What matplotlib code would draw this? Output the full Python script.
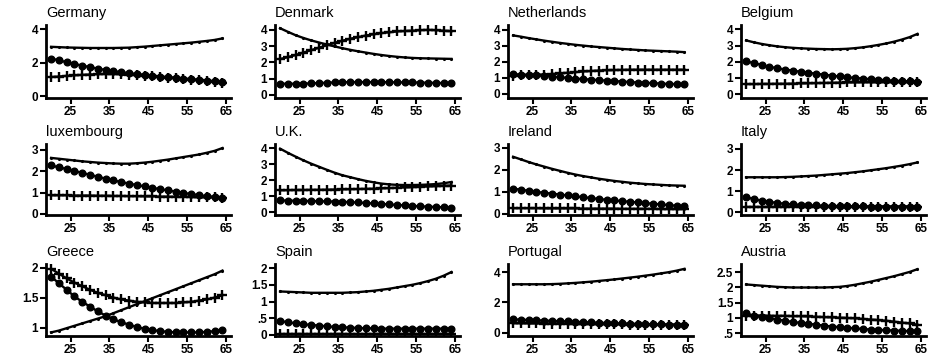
import matplotlib
matplotlib.use("Agg")
import matplotlib.pyplot as plt
from matplotlib.ticker import FuncFormatter

ages = [20, 22, 24, 26, 28, 30, 32, 34, 36, 38, 40, 42, 44, 46, 48, 50, 52, 54, 56, 58, 60, 62, 64]
xticks = [25, 35, 45, 55, 65]

countries = ["Germany", "Denmark", "Netherlands", "Belgium",
             "luxembourg", "U.K.", "Ireland", "Italy",
             "Greece", "Spain", "Portugal", "Austria"]

# plain line / filled-circle line / plus line
germany_line = [2.95, 2.93, 2.91, 2.90, 2.89, 2.88, 2.88, 2.88, 2.88, 2.89, 2.90, 2.93, 2.96, 3.00, 3.04, 3.08, 3.12, 3.16, 3.20, 3.25, 3.30, 3.36, 3.45]
germany_dots = [2.25, 2.15, 2.03, 1.93, 1.83, 1.74, 1.65, 1.57, 1.50, 1.44, 1.38, 1.33, 1.28, 1.23, 1.18, 1.14, 1.10, 1.06, 1.02, 0.98, 0.94, 0.90, 0.84]
germany_plus = [1.15, 1.18, 1.22, 1.25, 1.28, 1.30, 1.32, 1.33, 1.33, 1.32, 1.30, 1.27, 1.24, 1.20, 1.16, 1.12, 1.08, 1.04, 1.00, 0.96, 0.92, 0.88, 0.82]

denmark_line = [4.10, 3.88, 3.67, 3.50, 3.35, 3.22, 3.10, 2.98, 2.87, 2.77, 2.68, 2.60, 2.52, 2.45, 2.39, 2.34, 2.30, 2.27, 2.25, 2.24, 2.23, 2.22, 2.21]
denmark_dots = [0.68, 0.68, 0.68, 0.69, 0.70, 0.72, 0.74, 0.76, 0.77, 0.78, 0.78, 0.78, 0.78, 0.78, 0.77, 0.77, 0.76, 0.76, 0.75, 0.74, 0.73, 0.72, 0.71]
denmark_plus = [2.20, 2.32, 2.45, 2.60, 2.75, 2.90, 3.05, 3.20, 3.33, 3.45, 3.55, 3.65, 3.73, 3.80, 3.85, 3.90, 3.93, 3.95, 3.98, 4.00, 3.98, 3.95, 3.92]

netherlands_line = [3.65, 3.57, 3.48, 3.40, 3.32, 3.25, 3.18, 3.12, 3.06, 3.01, 2.96, 2.92, 2.88, 2.84, 2.80, 2.77, 2.74, 2.71, 2.69, 2.67, 2.65, 2.63, 2.60]
netherlands_dots = [1.22, 1.20, 1.17, 1.14, 1.11, 1.07, 1.03, 0.99, 0.95, 0.91, 0.88, 0.85, 0.82, 0.79, 0.76, 0.73, 0.70, 0.68, 0.66, 0.63, 0.61, 0.60, 0.58]
netherlands_plus = [1.12, 1.14, 1.16, 1.18, 1.20, 1.23, 1.27, 1.31, 1.35, 1.39, 1.42, 1.45, 1.47, 1.48, 1.49, 1.50, 1.50, 1.50, 1.50, 1.50, 1.50, 1.50, 1.50]

belgium_line = [3.32, 3.20, 3.10, 3.02, 2.95, 2.90, 2.86, 2.83, 2.81, 2.79, 2.78, 2.77, 2.78, 2.80, 2.84, 2.89, 2.96, 3.04, 3.13, 3.24, 3.37, 3.52, 3.72]
belgium_dots = [2.02, 1.92, 1.80, 1.69, 1.60, 1.52, 1.45, 1.38, 1.32, 1.26, 1.20, 1.14, 1.09, 1.04, 1.00, 0.96, 0.92, 0.89, 0.86, 0.83, 0.81, 0.79, 0.77]
belgium_plus = [0.62, 0.62, 0.63, 0.63, 0.64, 0.64, 0.65, 0.66, 0.67, 0.68, 0.69, 0.70, 0.71, 0.72, 0.72, 0.73, 0.73, 0.74, 0.74, 0.74, 0.74, 0.74, 0.74]

luxembourg_line = [2.62, 2.58, 2.54, 2.50, 2.46, 2.43, 2.40, 2.38, 2.36, 2.35, 2.35, 2.37, 2.40, 2.44, 2.49, 2.54, 2.60, 2.66, 2.72, 2.78, 2.86, 2.95, 3.08]
luxembourg_dots = [2.27, 2.18, 2.10, 2.01, 1.92, 1.83, 1.74, 1.65, 1.57, 1.49, 1.42, 1.35, 1.29, 1.22, 1.16, 1.10, 1.04, 0.98, 0.93, 0.88, 0.83, 0.79, 0.75]
luxembourg_plus = [0.87, 0.87, 0.87, 0.86, 0.86, 0.86, 0.85, 0.85, 0.84, 0.84, 0.83, 0.83, 0.82, 0.82, 0.81, 0.81, 0.80, 0.80, 0.79, 0.78, 0.78, 0.77, 0.76]

uk_line = [3.98, 3.72, 3.48, 3.25, 3.04, 2.85, 2.66, 2.48, 2.32, 2.20, 2.08, 1.97, 1.88, 1.80, 1.75, 1.72, 1.71, 1.71, 1.72, 1.74, 1.77, 1.82, 1.90]
uk_dots = [0.75, 0.74, 0.73, 0.72, 0.71, 0.70, 0.69, 0.68, 0.66, 0.64, 0.62, 0.59, 0.56, 0.53, 0.50, 0.47, 0.44, 0.41, 0.38, 0.36, 0.34, 0.32, 0.30]
uk_plus = [1.38, 1.39, 1.40, 1.40, 1.41, 1.41, 1.42, 1.43, 1.44, 1.45, 1.46, 1.47, 1.48, 1.50, 1.52, 1.54, 1.56, 1.58, 1.60, 1.62, 1.64, 1.66, 1.68]

ireland_line = [2.60, 2.48, 2.36, 2.25, 2.15, 2.05, 1.96, 1.87, 1.79, 1.72, 1.66, 1.60, 1.55, 1.50, 1.46, 1.42, 1.39, 1.36, 1.34, 1.32, 1.30, 1.29, 1.28]
ireland_dots = [1.15, 1.10, 1.05, 1.00, 0.96, 0.92, 0.88, 0.84, 0.80, 0.76, 0.72, 0.68, 0.64, 0.61, 0.58, 0.55, 0.52, 0.49, 0.46, 0.43, 0.40, 0.37, 0.34]
ireland_plus = [0.26, 0.26, 0.26, 0.26, 0.25, 0.25, 0.25, 0.25, 0.25, 0.24, 0.24, 0.24, 0.24, 0.24, 0.23, 0.23, 0.23, 0.23, 0.23, 0.22, 0.22, 0.22, 0.22]

italy_line = [1.66, 1.66, 1.66, 1.66, 1.66, 1.67, 1.68, 1.70, 1.72, 1.74, 1.77, 1.80, 1.83, 1.86, 1.90, 1.94, 1.99, 2.04, 2.09, 2.15, 2.21, 2.28, 2.36]
italy_dots = [0.72, 0.63, 0.56, 0.50, 0.45, 0.41, 0.38, 0.36, 0.34, 0.33, 0.32, 0.31, 0.30, 0.30, 0.29, 0.29, 0.28, 0.28, 0.28, 0.28, 0.28, 0.28, 0.28]
italy_plus = [0.26, 0.26, 0.26, 0.26, 0.26, 0.26, 0.27, 0.27, 0.27, 0.27, 0.27, 0.27, 0.27, 0.27, 0.27, 0.27, 0.27, 0.27, 0.27, 0.27, 0.27, 0.27, 0.27]

greece_line = [0.92, 0.95, 0.99, 1.03, 1.07, 1.11, 1.15, 1.19, 1.24, 1.29, 1.34, 1.39, 1.44, 1.49, 1.54, 1.59, 1.64, 1.69, 1.74, 1.79, 1.84, 1.89, 1.95]
greece_dots = [1.85, 1.74, 1.63, 1.52, 1.43, 1.35, 1.27, 1.20, 1.14, 1.09, 1.05, 1.01, 0.98, 0.96, 0.94, 0.93, 0.92, 0.92, 0.92, 0.92, 0.93, 0.94, 0.96]
greece_plus = [1.98, 1.90, 1.82, 1.75, 1.69, 1.63, 1.58, 1.54, 1.50, 1.47, 1.45, 1.43, 1.42, 1.41, 1.41, 1.41, 1.41, 1.42, 1.43, 1.45, 1.47, 1.50, 1.54]

spain_line = [1.30, 1.29, 1.28, 1.27, 1.26, 1.26, 1.26, 1.26, 1.26, 1.27, 1.28, 1.30, 1.32, 1.35, 1.38, 1.42, 1.46, 1.50, 1.55, 1.61, 1.68, 1.77, 1.88]
spain_dots = [0.42, 0.38, 0.35, 0.32, 0.30, 0.28, 0.26, 0.24, 0.23, 0.22, 0.21, 0.20, 0.20, 0.19, 0.19, 0.19, 0.19, 0.19, 0.19, 0.19, 0.19, 0.19, 0.19]
spain_plus = [0.04, 0.04, 0.04, 0.04, 0.04, 0.04, 0.04, 0.04, 0.04, 0.04, 0.04, 0.04, 0.04, 0.04, 0.04, 0.04, 0.04, 0.04, 0.04, 0.04, 0.04, 0.04, 0.04]

portugal_line = [3.20, 3.20, 3.20, 3.20, 3.20, 3.21, 3.23, 3.26, 3.29, 3.33, 3.37, 3.42, 3.47, 3.52, 3.58, 3.64, 3.70, 3.77, 3.84, 3.92, 4.00, 4.10, 4.22]
portugal_dots = [0.88, 0.86, 0.84, 0.82, 0.80, 0.78, 0.76, 0.74, 0.72, 0.70, 0.68, 0.66, 0.64, 0.62, 0.61, 0.60, 0.58, 0.57, 0.56, 0.55, 0.54, 0.53, 0.52]
portugal_plus = [0.62, 0.62, 0.61, 0.61, 0.60, 0.60, 0.59, 0.59, 0.58, 0.57, 0.57, 0.56, 0.56, 0.55, 0.55, 0.54, 0.54, 0.53, 0.53, 0.52, 0.52, 0.51, 0.50]

austria_line = [2.10, 2.08, 2.06, 2.04, 2.02, 2.01, 2.00, 2.00, 2.00, 2.00, 2.00, 2.01, 2.02, 2.05, 2.09, 2.14, 2.19, 2.25, 2.31, 2.37, 2.44, 2.51, 2.60]
austria_dots = [1.15, 1.08, 1.03, 0.99, 0.95, 0.91, 0.87, 0.84, 0.81, 0.78, 0.75, 0.72, 0.70, 0.68, 0.66, 0.64, 0.62, 0.61, 0.60, 0.59, 0.58, 0.57, 0.56]
austria_plus = [1.08, 1.08, 1.08, 1.07, 1.07, 1.07, 1.06, 1.06, 1.05, 1.04, 1.03, 1.02, 1.01, 1.00, 0.99, 0.97, 0.95, 0.93, 0.91, 0.88, 0.85, 0.82, 0.78]

series = [
    (germany_line, germany_dots, germany_plus),
    (denmark_line, denmark_dots, denmark_plus),
    (netherlands_line, netherlands_dots, netherlands_plus),
    (belgium_line, belgium_dots, belgium_plus),
    (luxembourg_line, luxembourg_dots, luxembourg_plus),
    (uk_line, uk_dots, uk_plus),
    (ireland_line, ireland_dots, ireland_plus),
    (italy_line, italy_dots, italy_plus),
    (greece_line, greece_dots, greece_plus),
    (spain_line, spain_dots, spain_plus),
    (portugal_line, portugal_dots, portugal_plus),
    (austria_line, austria_dots, austria_plus),
]

yticks = [
    [0, 2, 4], [0, 1, 2, 3, 4], [0, 1, 2, 3, 4], [0, 1, 2, 3, 4],
    [0, 1, 2, 3], [0, 1, 2, 3, 4], [0, 1, 2, 3], [0, 1, 2, 3],
    [1, 1.5, 2], [0, 0.5, 1, 1.5, 2], [0, 2, 4], [0.5, 1, 1.5, 2, 2.5],
]
ylims = [
    (-0.1, 4.25), (-0.2, 4.3), (-0.27, 4.3), (-0.24, 4.27),
    (-0.05, 3.27), (-0.16, 4.27), (-0.05, 3.18), (-0.12, 3.23),
    (0.86, 2.06), (-0.03, 2.12), (-0.22, 4.54), (0.41, 2.77),
]


def fmt(v, pos):
    s = ("%g" % v)
    if s.startswith("0."):
        s = s[1:]
    return s


W, H = 933, 361
fig = plt.figure(figsize=(W / 100, H / 100), dpi=100)
col_left = [46, 275, 508, 741]
row_top = [25, 144, 264]
row_bottom = [98, 215, 336]
ax_w = 185

tick_family = ["Liberation Sans Narrow", "Liberation Sans", "DejaVu Sans"]

for i, name in enumerate(countries):
    r, c = divmod(i, 4)
    left = col_left[c] / W
    bottom = 1 - row_bottom[r] / H
    height = (row_bottom[r] - row_top[r]) / H
    ax = fig.add_axes([left, bottom, ax_w / W, height])
    line, dots, plus = series[i]
    ax.plot(ages, line, color="black", lw=1.7, marker=".", ms=2.5)
    ax.plot(ages, dots, color="black", lw=1.7, marker="o", ms=4.8)
    ax.plot(ages, plus, color="black", lw=1.7, marker="+", ms=7, mew=1.7)
    ax.set_xlim(18.7, 66.2)
    ax.set_ylim(*ylims[i])
    ax.set_xticks(xticks)
    ax.set_yticks(yticks[i])
    ax.yaxis.set_major_formatter(FuncFormatter(fmt))
    for s in ["top", "right"]:
        ax.spines[s].set_visible(False)
    for s in ["left", "bottom"]:
        ax.spines[s].set_linewidth(2)
    ax.tick_params(axis="both", length=4, width=1.5, pad=1.5)
    for lab in ax.get_xticklabels() + ax.get_yticklabels():
        lab.set_fontfamily(tick_family)
        lab.set_fontweight("bold")
        lab.set_fontsize(8.5)
    ax.set_title(name, loc="left", fontsize=10.5, pad=6,
                 family=["Liberation Sans", "DejaVu Sans"])
    ax.patch.set_alpha(0)

fig.savefig("out.png", dpi=100)
